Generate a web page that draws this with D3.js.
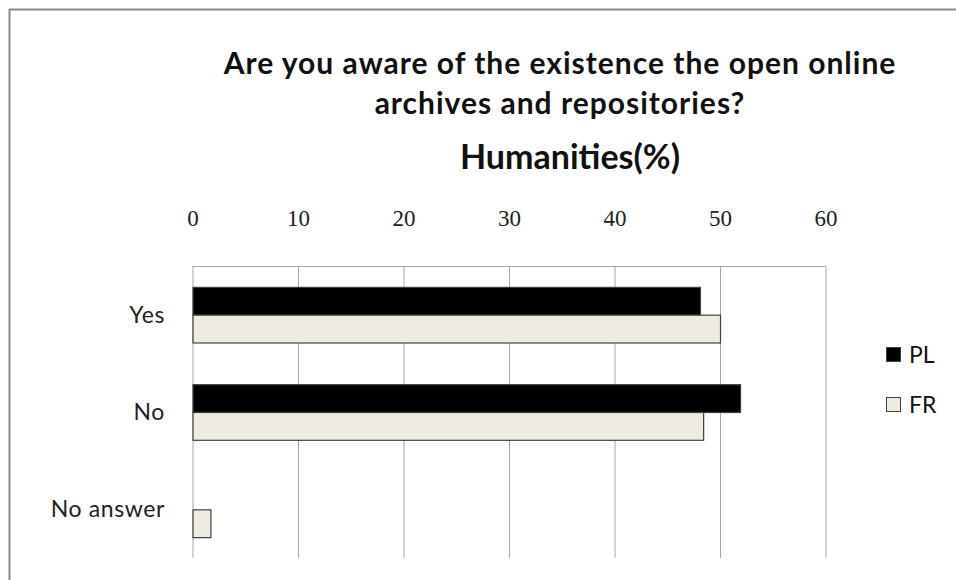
<!DOCTYPE html>
<html><head><meta charset="utf-8">
<script src="https://cdn.jsdelivr.net/npm/d3@7"></script>
<style>body{margin:0;background:#fff}svg{display:block}</style>
</head><body>
<svg id="c" width="956" height="580"></svg>
<script>
const categories = ["Yes", "No", "No answer"];
const seriesNames = ["PL", "FR"];
const plValues = [48.1, 51.9, 0];
const frValues = [50.0, 48.4, 1.7];
const tickValues = [0, 10, 20, 30, 40, 50, 60];
const titleLines = ["Are you aware of the existence the open online", "archives and repositories?"];
const subtitle = "Humanities(%)";
const colors = {PL: "#000000", FR: "#eeece1"};

const svg = d3.select("#c");
svg.append("rect").attr("x", 9.5).attr("y", 9.5).attr("width", 1000).attr("height", 1000)
  .attr("fill", "#fff").attr("stroke", "#888").attr("stroke-width", 2);

const m = {left: 192.5, right: 825.5, top: 266, bottom: 558};
const x = d3.scaleLinear().domain([0, 60]).range([m.left, m.right]);
const y = d3.scaleBand().domain(categories).range([m.top, m.bottom]).paddingInner(1.5/3.5).paddingOuter(0.75/3.5);
const yBand = d3.scaleBand().domain(categories).range([m.top, m.bottom]);
const inner = d3.scaleBand().domain(seriesNames).range([0, y.bandwidth()]);

const titleFont = "Lato, 'Open Sans', sans-serif";
const labelFont = "Lato, 'Open Sans', sans-serif";
const serif = "'Liberation Serif', 'DejaVu Serif', serif";

// gridlines
svg.append("g").selectAll("line").data(tickValues).join("line")
  .attr("x1", d => x(d) + 0.5).attr("x2", d => x(d) + 0.5)
  .attr("y1", m.top).attr("y2", m.bottom)
  .attr("stroke", "#a6a6a6").attr("stroke-width", 1);
svg.append("line").attr("x1", m.left).attr("x2", m.right).attr("y1", m.top + 0.5).attr("y2", m.top + 0.5)
  .attr("stroke", "#a6a6a6");

// top axis labels
const ax = svg.append("g").attr("transform", `translate(0,${m.top})`)
  .call(d3.axisTop(x).tickValues(tickValues).tickSize(0).tickPadding(40));
ax.select(".domain").remove();
ax.selectAll("text").attr("font-family", serif).attr("font-size", 23).attr("fill", "#222");

// category labels
svg.append("g").selectAll("text").data(categories).join("text")
  .attr("x", 165).attr("y", d => yBand(d) + yBand.bandwidth() / 2)
  .attr("dy", "0.35em").attr("text-anchor", "end")
  .attr("font-family", labelFont).attr("font-size", 23).attr("letter-spacing", 0.6)
  .attr("fill", "#222").text(d => d);

// bars
const data = categories.map((c, i) => ({c, vals: [{s: "PL", v: plValues[i]}, {s: "FR", v: frValues[i]}]}));
const g = svg.append("g");
data.forEach(d => {
  d.vals.forEach(b => {
    if (b.v <= 0) return;
    g.append("rect")
      .attr("x", x(0) + 0.5).attr("y", y(d.c) + inner(b.s) + 0.5)
      .attr("width", x(b.v) - x(0)).attr("height", inner.bandwidth())
      .attr("fill", colors[b.s]).attr("stroke", "#404040").attr("stroke-width", 1.2);
  });
});

// legend
const lg = svg.append("g");
seriesNames.forEach((s, i) => {
  const yy = 355 + i * 50;
  lg.append("rect").attr("x", 886.5).attr("y", yy - 7.5).attr("width", 14).attr("height", 14)
    .attr("fill", colors[s]).attr("stroke", "#404040").attr("stroke-width", 1);
  lg.append("text").attr("x", 909).attr("y", yy).attr("dy", "0.35em")
    .attr("font-family", labelFont).attr("font-size", 23).attr("fill", "#111").text(s);
});

// title
const t = svg.append("g").attr("font-family", titleFont).attr("fill", "#111").attr("text-anchor", "middle").attr("font-weight", "bold");
titleLines.forEach((l, i) => {
  t.append("text").attr("x", 560).attr("y", 74 + i * 40).attr("font-size", 30).attr("letter-spacing", 1).text(l);
});
t.append("text").attr("x", 570).attr("y", 169).attr("font-size", 34).text(subtitle);
</script>
</body></html>
